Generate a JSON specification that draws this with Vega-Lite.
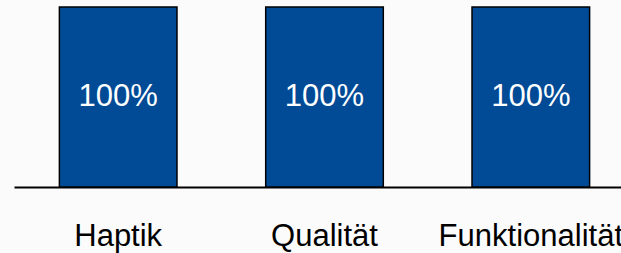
{
  "$schema": "https://vega.github.io/schema/vega-lite/v6.json",
  "width": 621,
  "height": 180,
  "autosize": "none",
  "padding": {"left": 14, "top": 7, "right": 0, "bottom": 66},
  "background": "#fbfbfb",
  "config": {"view": {"stroke": null}, "font": "Liberation Sans"},
  "data": {"values": [
    {"kategorie": "Haptik", "anteil": 1.0},
    {"kategorie": "Qualität", "anteil": 1.0},
    {"kategorie": "Funktionalität", "anteil": 1.0}
  ]},
  "encoding": {
    "x": {
      "field": "kategorie", "type": "nominal", "sort": null,
      "scale": {"paddingInner": 0.43, "paddingOuter": 0.22},
      "axis": {
        "title": null, "labelAngle": 0, "ticks": false,
        "domainColor": "#000000", "domainWidth": 2, "domainOpacity": 1,
        "labelFontSize": 31, "labelColor": "#000000", "labelPadding": 34, "labelLimit": 0,
        "labelFont": "Liberation Sans", "labelOverlap": false, "labelBound": false, "labelFlush": false
      }
    }
  },
  "layer": [
    {
      "mark": {"type": "bar", "color": "#004a96", "stroke": "#000000", "strokeWidth": 1.5},
      "encoding": {
        "y": {"field": "anteil", "type": "quantitative", "scale": {"domain": [0, 1], "nice": false}, "axis": null}
      }
    },
    {
      "mark": {"type": "text", "color": "#ffffff", "fontSize": 31, "baseline": "middle", "font": "Liberation Sans"},
      "encoding": {
        "y": {"datum": 0.5, "type": "quantitative"},
        "text": {"field": "anteil", "type": "quantitative", "format": ".0%"}
      }
    }
  ]
}
